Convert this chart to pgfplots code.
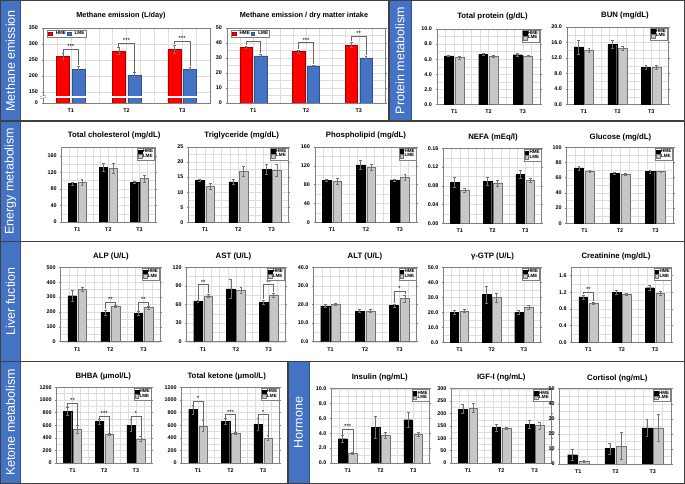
\documentclass[border=0pt]{standalone}
\usepackage{pgfplots}
\pgfplotsset{compat=1.18}
\usepackage{fontspec}
\setmainfont{Liberation Sans}
\definecolor{mblue}{HTML}{4472C4}
\definecolor{dblue}{HTML}{2F528F}
\definecolor{frame}{HTML}{404040}
\pgfplotsset{
  base/.style={
    scale only axis, anchor=south west,
    xmin=-0.5, xmax=2.5, ymin=0,
    xtick={0,1,2}, xticklabels={T1,T2,T3},
    minor xtick={-0.25,0.25,0.5,0.75,1.25,1.5,1.75,2.25},
    minor y tick num=1,
    xmajorgrids, xminorgrids, ymajorgrids, yminorgrids,
    grid style={draw=black!13, line width=0.3pt},
    minor grid style={draw=black!13, line width=0.3pt},
    axis line style={draw=black!50, line width=0.5pt},
    xtick style={draw=none}, minor tick length=0pt,
    ytick style={draw=black!50, line width=0.4pt}, major tick length=1.5pt, tick align=outside,
    extra x ticks={0.5,1.5}, extra x tick labels={},
    extra x tick style={grid=none, tick style={draw=black!50, line width=0.4pt}},
    tick label style={font=\fontsize{5.4}{6}\selectfont\bfseries},
    /pgf/number format/assume math mode=true,
    /pgf/number format/1000 sep={},
    scaled y ticks=false,
    xticklabel style={yshift=-0.6pt},
    ybar, bar width=0.26,
    error bars/y dir=both, error bars/y explicit,
    error bars/error bar style={draw=black!55, line width=0.4pt},
    error bars/error mark options={draw=black!55, rotate=90, mark size=1.4pt, line width=0.4pt},
    legend image code/.code={\draw[#1] (0pt,-1.9pt) rectangle (3.8pt,1.9pt);},
    legend style={font=\fontsize{4.6}{5}\selectfont\bfseries, draw=black!50, line width=0.3pt, inner sep=0.6pt, fill=white, row sep=-1.5pt, nodes={inner sep=0.7pt}},
    legend cell align=left,
  },
  gr/.style={base, legend style={at={(0.995,0.99)}, anchor=north east}, legend entries={HME,LME}},
  d1/.style={yticklabel style={/pgf/number format/fixed, /pgf/number format/fixed zerofill, /pgf/number format/precision=1}},
  d2/.style={yticklabel style={/pgf/number format/fixed, /pgf/number format/fixed zerofill, /pgf/number format/precision=2}},
  hme/.style={fill=black, draw=black, line width=0.3pt, bar shift=-0.155},
  lme/.style={fill=black!22, draw=black!55, line width=0.4pt, bar shift=0.155},
  mred/.style={fill=red, draw=red!65!black, line width=0.4pt, bar shift=-0.14},
  mblu/.style={fill=mblue, draw=dblue, line width=0.4pt, bar shift=0.14},
}
\def\bsh{0.155}
\newcommand{\brk}[5]{%
  \draw[black!60, line width=0.45pt] (axis cs:#1-\bsh,#3) -- (axis cs:#1-\bsh,#2) -- (axis cs:#1+\bsh,#2) -- (axis cs:#1+\bsh,#4);
  \node[font=\fontsize{6}{6}\selectfont, anchor=south, inner sep=0.3pt] at (axis cs:#1,#2) {#5};}
\newcommand{\ttl}[3]{\node[font=\fontsize{7.8}{9}\selectfont\bfseries] at (#1pt,#2pt) {#3};}
\begin{document}
\begin{tikzpicture}
\useasboundingbox (0pt,0pt) rectangle (685pt,484pt);
\fill[white] (0pt,0pt) rectangle (685pt,484pt);
\foreach \a/\b/\c/\d in {0.6/363/20.5/483.4, 389/363/411/483.4, 0.6/242.5/20.5/363, 0.6/122.5/20.5/242.5, 0.6/0.6/20.5/122.5, 288/0.6/309/122.5}
  \filldraw[fill=mblue, draw=dblue, line width=0.8pt] (\a pt,\b pt) rectangle (\c pt,\d pt);
\draw[frame, line width=1.2pt] (0.6pt,0.6pt) rectangle (684.4pt,483.4pt);
\draw[frame, line width=1.2pt] (0.6pt,363pt) -- (684.4pt,363pt) (0.6pt,242.5pt) -- (684.4pt,242.5pt) (0.6pt,122.5pt) -- (684.4pt,122.5pt) (389pt,363pt) -- (389pt,483.4pt) (288pt,0.6pt) -- (288pt,122.5pt);
\begin{scope}[every node/.style={rotate=90, text=white, font=\fontsize{12.5}{13}\selectfont}]
\node at (10.5pt,423.2pt) {Methane emission};
\node at (400pt,423.2pt) {Protein metabolism};
\node at (10.5pt,302.7pt) {Energy metabolism};
\node at (10.5pt,182.5pt) {Liver fuction};
\node at (10.5pt,61.5pt) {Ketone metabolism};
\node at (298.5pt,61.5pt) {Hormone};
\end{scope}
% titles
\node[font=\fontsize{7.3}{9}\selectfont\bfseries] at (121pt,468pt) {Methane emission (L/day)};
\node[font=\fontsize{7.3}{9}\selectfont\bfseries] at (304pt,468pt) {Methane emission / dry matter intake};
\ttl{492.5}{467}{Total protein (g/dL)}
\ttl{625}{468}{BUN (mg/dL)}
\ttl{114.2}{348.3}{Total cholesterol (mg/dL)}
\ttl{241.7}{348.3}{Triglyceride (mg/dL)}
\ttl{366}{348.3}{Phospholipid (mg/dL)}
\ttl{493}{346.5}{NEFA (mEq/l)}
\ttl{620.5}{346.5}{Glucose (mg/dL)}
\ttl{111}{227.3}{ALP (U/L)}
\ttl{233.5}{227.3}{AST (U/L)}
\ttl{365}{227.3}{ALT (U/L)}
\ttl{492.5}{227.3}{γ-GTP (U/L)}
\ttl{616}{227.3}{Creatinine (mg/dL)}
\ttl{103.3}{107.7}{BHBA (μmol/L)}
\ttl{226.7}{107.7}{Total ketone (μmol/L)}
\ttl{379.7}{106.7}{Insulin (ng/mL)}
\ttl{501.3}{106.7}{IGF-I (ng/mL)}
\ttl{617.3}{105.8}{Cortisol (ng/mL)}

% 1 Methane L/day
\def\bsh{0.14}
\begin{axis}[base, at={(43pt,381pt)}, width=167pt, height=75pt,
  ymin=116, ymax=350, ytick={116,150,200,250,300,350}, yticklabels={0,150,200,250,300,350},
  bar width=0.235, clip mode=individual,
  legend columns=2, legend style={at={(0.025,0.975)}, anchor=north west, /tikz/every odd column/.append style={column sep=3pt}},
  legend entries={HME,LME}]
\addplot[mred] coordinates {(0,262) +- (0,9) (1,278) +- (0,11) (2,284) +- (0,13)};
\addplot[mblu] coordinates {(0,221) +- (0,10) (1,203) +- (0,9) (2,222) +- (0,6)};
\fill[white] (axis cs:-0.56,132.5) rectangle (axis cs:2.5,137.5);
\draw[black!50, line width=0.4pt] (axis cs:-0.55,129.5) -- (axis cs:-0.45,133.5) (axis cs:-0.55,136.5) -- (axis cs:-0.45,140.5);
\brk{0}{284}{273}{233}{***}
\brk{1}{304}{291}{214}{***}
\brk{2}{310}{299}{230}{***}
\end{axis}
% 2 Methane / DMI
\begin{axis}[base, at={(227pt,381pt)}, width=158pt, height=75pt,
  ymax=50, ytick={0,10,...,50}, bar width=0.235, clip mode=individual,
  legend columns=2, legend style={at={(0.025,0.975)}, anchor=north west, /tikz/every odd column/.append style={column sep=3pt}},
  legend entries={HME,LME}]
\addplot[mred] coordinates {(0,37.3) +- (0,0.8) (1,34.4) +- (0,1) (2,38.8) +- (0,1.4)};
\addplot[mblu] coordinates {(0,31.4) +- (0,1) (1,24.7) +- (0,0.7) (2,30) +- (0,1.4)};
\brk{0}{41}{38.6}{33}{***}
\brk{1}{40.3}{36}{26}{***}
\brk{2}{44.4}{41}{32}{**}
\end{axis}
\def\bsh{0.155}
% 3 Total protein
\begin{axis}[gr, d1, at={(437pt,379.5pt)}, width=103pt, height=75.5pt, ymax=10, ytick={0,2,...,10}]
\addplot[hme] coordinates {(0,6.45) +- (0,0.1) (1,6.65) +- (0,0.1) (2,6.6) +- (0,0.15)};
\addplot[lme] coordinates {(0,6.2) +- (0,0.15) (1,6.35) +- (0,0.12) (2,6.45) +- (0,0.1)};
\end{axis}
% 4 BUN
\begin{axis}[gr, d1, at={(567pt,379.5pt)}, width=101pt, height=77.5pt, ymax=20, ytick={0,4,...,20}]
\addplot[hme] coordinates {(0,14.9) +- (0,1.8) (1,15.6) +- (0,1.1) (2,9.6) +- (0,0.6)};
\addplot[lme] coordinates {(0,14.1) +- (0,0.5) (1,14.5) +- (0,0.5) (2,9.6) +- (0,0.6)};
\end{axis}
% 5 Total cholesterol
\begin{axis}[gr, at={(61.7pt,262pt)}, width=93.3pt, height=74.5pt, ymax=180, ytick={0,40,...,160}]
\addplot[hme] coordinates {(0,93) +- (0,3) (1,132) +- (0,9) (2,96) +- (0,3)};
\addplot[lme] coordinates {(0,96) +- (0,7) (1,130) +- (0,12) (2,105) +- (0,9)};
\end{axis}
% 6 Triglyceride
\begin{axis}[gr, at={(188.3pt,261.7pt)}, width=100pt, height=75.3pt, ymax=25, ytick={0,5,...,25}]
\addplot[hme] coordinates {(0,14.0) +- (0,0.4) (1,13.4) +- (0,0.9) (2,17.6) +- (0,1.6)};
\addplot[lme] coordinates {(0,12.0) +- (0,1.0) (1,17.0) +- (0,1.7) (2,17.3) +- (0,2.0)};
\end{axis}
% 7 Phospholipid
\begin{axis}[gr, at={(315pt,261.7pt)}, width=101.7pt, height=75.3pt, ymax=160, ytick={0,40,...,160}]
\addplot[hme] coordinates {(0,89) +- (0,2) (1,122) +- (0,9) (2,90) +- (0,2)};
\addplot[lme] coordinates {(0,88) +- (0,6) (1,117) +- (0,7) (2,96) +- (0,7)};
\end{axis}
% 8 NEFA
\begin{axis}[gr, d2, at={(443.3pt,260.7pt)}, width=98.4pt, height=75pt, ymax=0.16, ytick={0,0.04,0.08,0.12,0.16}]
\addplot[hme] coordinates {(0,0.088) +- (0,0.010) (1,0.090) +- (0,0.008) (2,0.105) +- (0,0.008)};
\addplot[lme] coordinates {(0,0.070) +- (0,0.004) (1,0.086) +- (0,0.006) (2,0.092) +- (0,0.004)};
\end{axis}
% 9 Glucose
\begin{axis}[gr, at={(566.7pt,260.7pt)}, width=106.6pt, height=76pt, ymax=100, ytick={0,20,...,100}]
\addplot[hme] coordinates {(0,73) +- (0,2.5) (1,66) +- (0,1.5) (2,68) +- (0,2)};
\addplot[lme] coordinates {(0,69) +- (0,1.5) (1,64.5) +- (0,1.5) (2,68) +- (0,1)};
\end{axis}
% 10 ALP
\begin{axis}[gr, at={(60.7pt,142.3pt)}, width=99.3pt, height=74.4pt, ymax=500, ytick={0,100,...,500}]
\addplot[hme] coordinates {(0,309) +- (0,35) (1,197) +- (0,18) (2,190) +- (0,12)};
\addplot[lme] coordinates {(0,354) +- (0,12) (1,238) +- (0,8) (2,229) +- (0,8)};
\brk{1}{268}{219}{249}{**}
\brk{2}{268}{206}{240}{**}
\end{axis}
% 11 AST
\begin{axis}[gr, at={(186.7pt,142.3pt)}, width=98.3pt, height=74.4pt, ymax=120, ytick={0,30,...,120}]
\addplot[hme] coordinates {(0,65) +- (0,1.5) (1,85) +- (0,15) (2,64) +- (0,3)};
\addplot[lme] coordinates {(0,74) +- (0,3) (1,83.5) +- (0,5) (2,75.5) +- (0,3)};
\brk{0}{92}{68}{78}{**}
\brk{2}{92}{68.5}{80}{**}
\end{axis}
% 12 ALT
\begin{axis}[gr, d1, at={(313.3pt,142.3pt)}, width=103.4pt, height=74.4pt, ymax=40, ytick={0,10,...,40}]
\addplot[hme] coordinates {(0,19.2) +- (0,0.8) (1,16.5) +- (0,0.8) (2,19.4) +- (0,1.0)};
\addplot[lme] coordinates {(0,20.1) +- (0,0.5) (1,16.6) +- (0,0.8) (2,23.2) +- (0,2.0)};
\brk{2}{27}{21}{25.8}{*}
\end{axis}
% 13 gamma-GTP
\begin{axis}[gr, d1, at={(443.3pt,141.7pt)}, width=96.7pt, height=75pt, ymax=50, ytick={0,10,...,50}]
\addplot[hme] coordinates {(0,20) +- (0,1.2) (1,31.8) +- (0,5.5) (2,20) +- (0,1.3)};
\addplot[lme] coordinates {(0,20.8) +- (0,1.0) (1,29.8) +- (0,2.8) (2,23.3) +- (0,1.3)};
\end{axis}
% 14 Creatinine
\begin{axis}[gr, d1, at={(571.7pt,141.7pt)}, width=100pt, height=75pt, ymax=1.8, ytick={0,0.4,0.8,1.2,1.6}]
\addplot[hme] coordinates {(0,1.09) +- (0,0.05) (1,1.20) +- (0,0.05) (2,1.31) +- (0,0.07)};
\addplot[lme] coordinates {(0,0.94) +- (0,0.03) (1,1.15) +- (0,0.02) (2,1.18) +- (0,0.05)};
\brk{0}{1.2}{1.15}{0.98}{**}
\end{axis}
% 15 BHBA
\begin{axis}[gr, at={(56.7pt,21pt)}, width=95pt, height=75.7pt, ymax=1200, ytick={0,200,...,1200}]
\addplot[hme] coordinates {(0,820) +- (0,70) (1,660) +- (0,40) (2,600) +- (0,95)};
\addplot[lme] coordinates {(0,540) +- (0,60) (1,460) +- (0,15) (2,385) +- (0,45)};
\brk{0}{950}{895}{605}{**}
\brk{1}{740}{705}{480}{***}
\brk{2}{740}{700}{435}{*}
\end{axis}
% 16 Total ketone
\begin{axis}[gr, at={(181.7pt,21pt)}, width=97.6pt, height=75.7pt, ymax=1200, ytick={0,200,...,1200}]
\addplot[hme] coordinates {(0,850) +- (0,70) (1,665) +- (0,45) (2,610) +- (0,95)};
\addplot[lme] coordinates {(0,590) +- (0,90) (1,470) +- (0,20) (2,395) +- (0,40)};
\brk{0}{978}{925}{685}{*}
\brk{1}{766}{715}{495}{***}
\brk{2}{766}{710}{440}{*}
\end{axis}
% 17 Insulin
\begin{axis}[gr, d1, at={(331.3pt,21pt)}, width=98.4pt, height=74.3pt, ymax=10, ytick={0,2,...,10}]
\addplot[hme] coordinates {(0,3.27) +- (0,0.45) (1,4.8) +- (0,1.5) (2,5.83) +- (0,1.0)};
\addplot[lme] coordinates {(0,1.27) +- (0,0.12) (1,3.73) +- (0,0.4) (2,3.88) +- (0,0.3)};
\brk{0}{4.55}{3.75}{1.45}{***}
\end{axis}
% 18 IGF-I
\begin{axis}[gr, at={(451.3pt,21pt)}, width=100pt, height=74.3pt, ymax=300, ytick={0,50,...,300}]
\addplot[hme] coordinates {(0,218) +- (0,18) (1,143) +- (0,13) (2,157) +- (0,15)};
\addplot[lme] coordinates {(0,222) +- (0,18) (1,141) +- (0,5) (2,151) +- (0,15)};
\end{axis}
% 19 Cortisol
\begin{axis}[gr, at={(559.7pt,20pt)}, width=111.6pt, height=75.3pt, ymax=50, ytick={0,10,...,50}]
\addplot[hme] coordinates {(0,6.2) +- (0,3.8) (1,10.2) +- (0,3.8) (2,24) +- (0,5.5)};
\addplot[lme] coordinates {(0,1.8) +- (0,0.4) (1,11.9) +- (0,9) (2,24) +- (0,9)};
\end{axis}
\end{tikzpicture}
\end{document}
